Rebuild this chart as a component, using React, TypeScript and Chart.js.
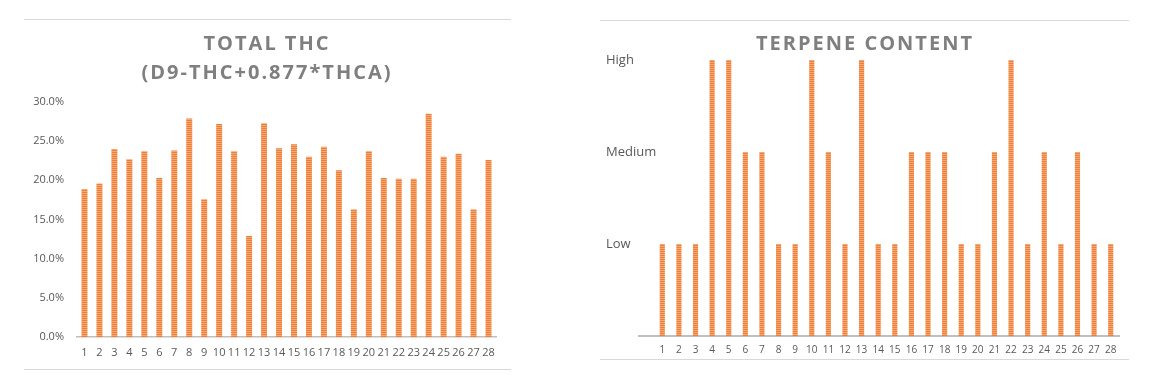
import React, { useEffect, useRef } from "react";
import { Chart, registerables } from "chart.js";

Chart.register(...registerables);

const samples = Array.from({ length: 28 }, (_, i) => String(i + 1));
const thcValues = [18.9, 19.6, 24.0, 22.7, 23.7, 20.3, 23.8, 27.9, 17.6, 27.2, 23.7, 12.9, 27.3, 24.1, 24.6, 23.0, 24.3, 21.3, 16.3, 23.7, 20.3, 20.2, 20.2, 28.5, 23.0, 23.4, 16.3, 22.6];
const terpeneLevels = ["Low", "Low", "Low", "High", "High", "Medium", "Medium", "Low", "Low", "High", "Medium", "Low", "High", "Low", "Low", "Medium", "Medium", "Medium", "Low", "Low", "Medium", "High", "Low", "Medium", "Low", "Medium", "Low", "Low"];
const levelLabels = ["", "Low", "Medium", "High"];
const thcTitle = ["TOTAL THC", "(D9-THC+0.877*THCA)"];
const terpeneTitle = ["TERPENE CONTENT"];

const FONT = "'Open Sans', 'DejaVu Sans', sans-serif";
const TICK = "#595959";

function makePattern(): CanvasPattern | string {
  const c = document.createElement("canvas");
  c.width = 4;
  c.height = 2;
  const x = c.getContext("2d");
  if (!x) return "#F08C4A";
  x.fillStyle = "#EE7F3A";
  x.fillRect(0, 0, 4, 1);
  x.fillStyle = "#F5A872";
  x.fillRect(0, 1, 4, 1);
  return x.createPattern(c, "repeat") || "#F08C4A";
}

const spacedTitle = {
  id: "spacedTitle",
  afterDraw(chart: any, _args: any, opts: any) {
    const ctx = chart.ctx as CanvasRenderingContext2D;
    const lines: string[] = opts.lines || [];
    ctx.save();
    ctx.font = `bold ${opts.size}px ${FONT}`;
    ctx.fillStyle = "#7F7F7F";
    ctx.textAlign = "center";
    ctx.textBaseline = "middle";
    (ctx as any).letterSpacing = `${opts.spacing}px`;
    lines.forEach((l, i) => {
      ctx.fillText(l, opts.x + opts.spacing / 2, opts.y + i * opts.lineHeight);
    });
    ctx.restore();
  },
};

// extends the category axis baseline to the left, as in the original
const baselineExtend = {
  id: "baselineExtend",
  afterDraw(chart: any, _args: any, opts: any) {
    if (!opts.extend) return;
    const { ctx, chartArea } = chart;
    const y = Math.round(chartArea.bottom);
    ctx.save();
    ctx.strokeStyle = "#BFBFBF";
    ctx.lineWidth = 2;
    ctx.beginPath();
    ctx.moveTo(chartArea.left - opts.extend, y);
    ctx.lineTo(chartArea.left + 1, y);
    ctx.stroke();
    ctx.restore();
  },
};

function ThcChart() {
  const ref = useRef<HTMLCanvasElement>(null);
  useEffect(() => {
    if (!ref.current) return;
    const chart = new Chart(ref.current, {
      type: "bar",
      data: {
        labels: samples,
        datasets: [
          {
            data: thcValues,
            backgroundColor: makePattern() as any,
            categoryPercentage: 1,
            barPercentage: 0.4,
          },
        ],
      },
      options: {
        animation: false,
        responsive: false,
        layout: { padding: { top: 82, left: 0, right: 15, bottom: 0 } },
        plugins: {
          legend: { display: false },
          tooltip: { enabled: false },
          title: { display: false },
          spacedTitle: { lines: thcTitle, x: 242, y: 24, lineHeight: 29.5, size: 20, spacing: 2 },
        } as any,
        scales: {
          x: {
            grid: { display: false, drawTicks: false },
            border: { display: true, color: "#BFBFBF", width: 1.5 },
            ticks: { color: TICK, font: { family: FONT, size: 11 }, padding: 9, autoSkip: false, maxRotation: 0 },
            afterFit: (s: any) => { s.height = 32; },
          },
          y: {
            min: 0,
            max: 30,
            grid: { display: false, drawTicks: false },
            border: { display: false },
            ticks: {
              stepSize: 5,
              color: TICK,
              font: { family: FONT, size: 11 },
              padding: 13,
              callback: (v: any) => Number(v).toFixed(1) + "%",
            },
            afterFit: (s: any) => { s.width = 53; },
          },
        },
      },
      plugins: [spacedTitle],
    });
    return () => chart.destroy();
  }, []);
  return <canvas ref={ref} width={487} height={349} style={{ display: "block" }} />;
}

function TerpeneChart() {
  const ref = useRef<HTMLCanvasElement>(null);
  useEffect(() => {
    if (!ref.current) return;
    const chart = new Chart(ref.current, {
      type: "bar",
      data: {
        labels: samples,
        datasets: [
          {
            data: terpeneLevels.map((l) => levelLabels.indexOf(l)),
            backgroundColor: makePattern() as any,
            categoryPercentage: 1,
            barPercentage: 0.31,
          },
        ],
      },
      options: {
        animation: false,
        responsive: false,
        layout: { padding: { top: 39, left: 6, right: 10, bottom: 0 } },
        plugins: {
          legend: { display: false },
          tooltip: { enabled: false },
          title: { display: false },
          spacedTitle: { lines: terpeneTitle, x: 264, y: 23, lineHeight: 29, size: 20, spacing: 2 },
          baselineExtend: { extend: 16 },
        } as any,
        scales: {
          x: {
            grid: { display: false, drawTicks: false },
            border: { display: true, color: "#BFBFBF", width: 2 },
            ticks: { color: TICK, font: { family: FONT, size: 10 }, padding: 8, autoSkip: false, maxRotation: 0 },
            afterFit: (s: any) => { s.height = 23; },
          },
          y: {
            min: 0,
            max: 3,
            grid: { display: false, drawTicks: false },
            border: { display: false },
            ticks: {
              stepSize: 1,
              color: TICK,
              mirror: true,
              padding: -48,
              font: { family: FONT, size: 13 },
              callback: (v: any) => levelLabels[Number(v)] ?? "",
            },
            afterFit: (s: any) => { s.width = 48; },
          },
        },
      },
      plugins: [spacedTitle, baselineExtend],
    });
    return () => chart.destroy();
  }, []);
  return <canvas ref={ref} width={529} height={338} style={{ display: "block" }} />;
}

export default function App() {
  const panel = (left: number, top: number, width: number, height: number): React.CSSProperties => ({
    position: "absolute",
    left,
    top,
    width,
    height,
    boxSizing: "border-box",
    borderTop: "1px solid #D9D9D9",
    borderBottom: "1px solid #D9D9D9",
    background: "#fff",
  });
  return (
    <div>
      <div style={panel(24, 19, 487, 351)}>
        <ThcChart />
      </div>
      <div style={panel(600, 20, 529, 340)}>
        <TerpeneChart />
      </div>
    </div>
  );
}
